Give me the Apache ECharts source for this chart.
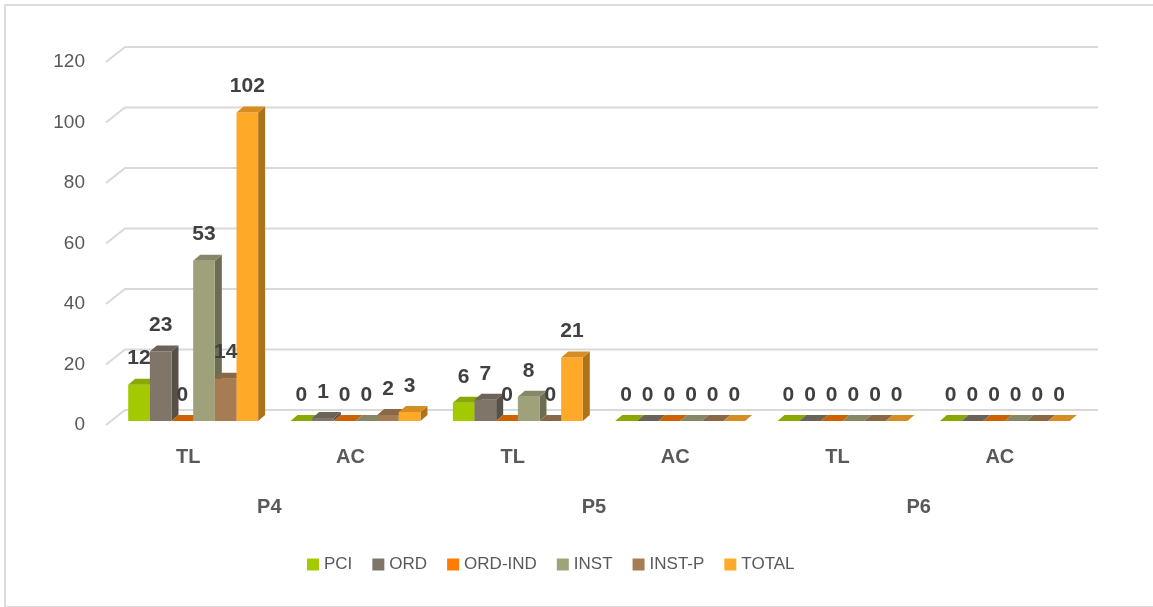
<!DOCTYPE html>
<html>
<head>
<meta charset="utf-8">
<script src="https://cdn.jsdelivr.net/npm/echarts@6/dist/echarts.min.js"></script>
<style>
  html, body { margin: 0; padding: 0; background: #fff; }
  .frame {
    position: absolute; left: 4px; top: 4px; width: 1160px; height: 600px;
    border-left: 2px solid #DCDCDC; border-top: 2px solid #DCDCDC; border-bottom: 2px solid #DCDCDC;
  }
  #chart { position: absolute; left: 0; top: 0; width: 1153px; height: 607px; }
</style>
</head>
<body>
<div class="frame"></div>
<div id="chart"></div>
<script>
// 数据
const categories = ['TL', 'AC', 'TL', 'AC', 'TL', 'AC'];
const groups = ['P4', 'P5', 'P6'];
const seriesNames = ['PCI', 'ORD', 'ORD-IND', 'INST', 'INST-P', 'TOTAL'];
const pci = [12, 0, 6, 0, 0, 0];
const ord = [23, 1, 7, 0, 0, 0];
const ordInd = [0, 0, 0, 0, 0, 0];
const inst = [53, 0, 8, 0, 0, 0];
const instP = [14, 2, 0, 0, 0, 0];
const total = [102, 3, 21, 0, 0, 0];
const yTicks = [0, 20, 40, 60, 80, 100, 120];

const colors = ['#A3C900', '#7F7569', '#F57500', '#9FA17A', '#A67C52', '#FFA928'];
const legendColors = ['#A3CB00', '#7F7569', '#FF7C00', '#A0A27A', '#A67C52', '#FFAA28'];
const allValues = [pci, ord, ordInd, inst, instP, total];

const FONT = '"Liberation Sans", Arial, sans-serif';

function shade(hex, k) {
  const n = parseInt(hex.slice(1), 16);
  const r = Math.round(((n >> 16) & 255) * k);
  const g = Math.round(((n >> 8) & 255) * k);
  const b = Math.round((n & 255) * k);
  return 'rgb(' + r + ',' + g + ',' + b + ')';
}

// 3D柱子
function barItem(idx) {
  return function (params, api) {
    const cat = api.value(0);
    const val = api.value(1);
    const top = api.coord([cat, val]);
    const base = api.coord([cat, 0]);
    const band = api.size([1, 0])[0];
    const bw = band * 0.1334;
    const dx = 7, dy = 6;   // 深度
    const x0 = top[0] + 5 + (idx - 3) * bw;
    const x1 = x0 + bw;
    const yTop = top[1] - 4;
    const yBot = base[1] - 4;
    const c = colors[idx];
    return {
      type: 'group',
      children: [
        { type: 'polygon', shape: { points: [[x1, yTop], [x1 + dx, yTop - dy], [x1 + dx, yBot - dy], [x1, yBot]] },
          style: { fill: shade(c, 0.68) } },
        { type: 'rect', shape: { x: x0, y: yTop, width: bw, height: yBot - yTop },
          style: { fill: c } },
        { type: 'polygon', shape: { points: [[x0, yTop], [x0 + dx, yTop - dy], [x1 + dx, yTop - dy], [x1, yTop]] },
          style: { fill: shade(c, 0.84) } },
        { type: 'text', z2: 10,
          style: { text: String(val), x: x0 + bw / 2, y: yTop - 26, align: 'center', verticalAlign: 'middle',
            fontSize: 21, fontWeight: 'bold', fontFamily: FONT, fill: '#404040' } }
      ]
    };
  };
}

// 网格线（带透视斜线）
function gridItem(params, api) {
  const v = api.value(1);
  const p = api.coord([0, v]);
  const cs = params.coordSys;
  return {
    type: 'polyline',
    shape: { points: [[cs.x - 1, p[1]], [cs.x + 18, p[1] - 15], [cs.x + cs.width + 17, p[1] - 15]] },
    style: { stroke: '#D9D9D9', lineWidth: 2, fill: null }
  };
}

const chart = echarts.init(document.getElementById('chart'));

const series = [{
  type: 'custom',
  name: 'grid',
  renderItem: gridItem,
  data: yTicks.map(v => [0, v]),
  encode: { x: 0, y: 1 },
  silent: true,
  z: 1
}];
seriesNames.forEach((name, i) => {
  series.push({
    type: 'custom',
    name: name,
    renderItem: barItem(i),
    itemStyle: { color: legendColors[i] },
    data: allValues[i].map((v, j) => [j, v]),
    encode: { x: 0, y: 1 },
    z: 2
  });
});

chart.setOption({
  animation: false,
  textStyle: { fontFamily: FONT },
  grid: { left: 107, right: 72, top: 62, bottom: 182 },
  legend: {
    data: seriesNames,
    left: 302,
    top: 551,
    icon: 'rect',
    itemWidth: 12,
    itemHeight: 12,
    itemGap: 20,
    textStyle: { fontSize: 17, color: '#595959', fontFamily: FONT }
  },
  xAxis: [
    {
      type: 'category',
      data: categories,
      axisLine: { show: false },
      axisTick: { show: false },
      axisLabel: { margin: 22, fontSize: 20, fontWeight: 'bold', color: '#595959', fontFamily: FONT }
    },
    {
      type: 'category',
      data: groups,
      position: 'bottom',
      offset: 50,
      axisLine: { show: false },
      axisTick: { show: false },
      axisLabel: { margin: 22, fontSize: 20, fontWeight: 'bold', color: '#595959', fontFamily: FONT }
    }
  ],
  yAxis: {
    type: 'value',
    min: 0,
    max: 120,
    interval: 20,
    axisLine: { show: false },
    axisTick: { show: false },
    splitLine: { show: false },
    axisLabel: { margin: 22, fontSize: 19, color: '#595959', fontFamily: FONT }
  },
  series: series
});
</script>
</body>
</html>
